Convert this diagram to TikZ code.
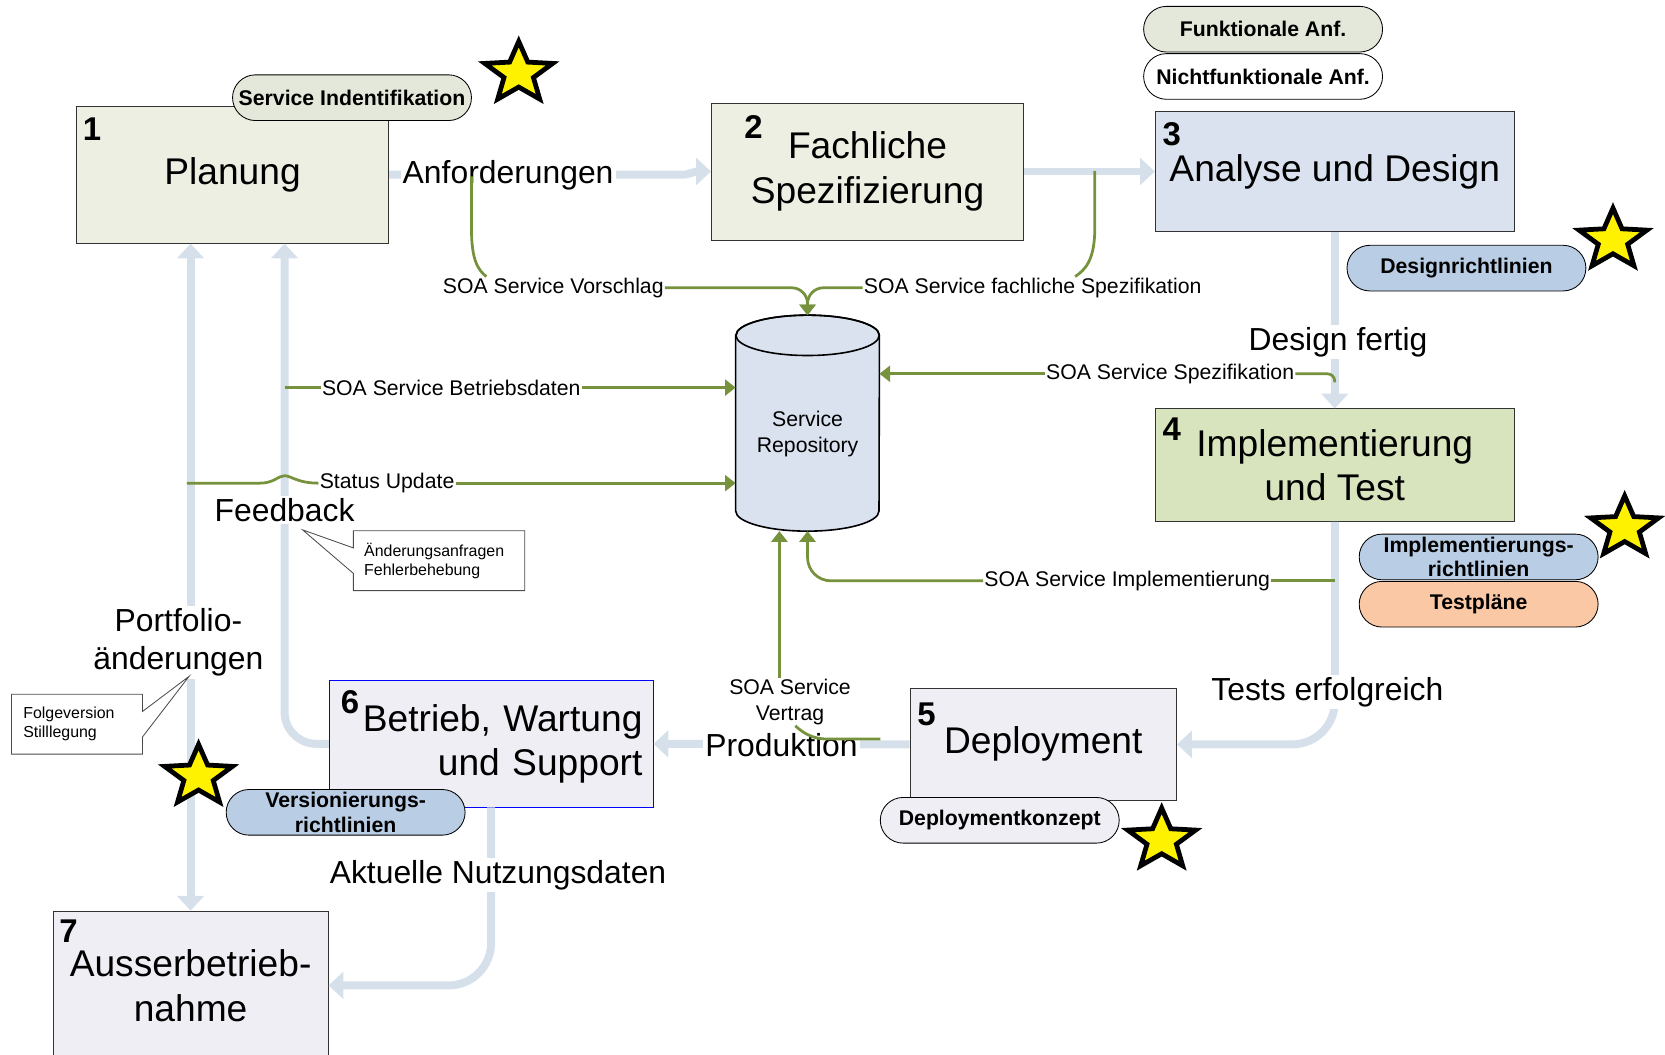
\documentclass[tikz,border=0pt]{standalone}
\usepackage{fontspec}
\setmainfont{Liberation Sans}
\usetikzlibrary{arrows.meta}

\definecolor{stagetan}{HTML}{EDEFE3}
\definecolor{pilltan}{HTML}{E4E8DA}
\definecolor{stageblue}{HTML}{D9E2EE}
\definecolor{stagegreen}{HTML}{D7E4BD}
\definecolor{stagegray}{HTML}{EFEEF4}
\definecolor{pillblue}{HTML}{B9CDE5}
\definecolor{pillpeach}{HTML}{FAC8A4}
\definecolor{flowblue}{HTML}{D6E0EB}
\definecolor{soagreen}{HTML}{76923C}

\tikzset{
	flowtip/.tip={Triangle[length=14pt,width=25pt]},
	soatip/.tip={Triangle[length=10pt,width=15pt]},
	stage/.style={draw=black!80, line width=0.8pt, inner sep=0pt, align=center, font=\fontsize{35}{42}\selectfont},
	num/.style={inner sep=0pt, font=\bfseries\fontsize{31}{31}\selectfont},
	pill/.style={draw=black, line width=0.8pt, rounded corners=21.5pt, minimum width=225pt, minimum height=43pt, inner sep=0pt, align=center, font=\bfseries\fontsize{20}{23}\selectfont},
	flow/.style={draw=flowblue, line width=7.5pt, -flowtip},
	flowlabel/.style={fill=white, inner sep=2pt, align=center, font=\fontsize{30}{36}\selectfont},
	soa/.style={draw=soagreen, line width=2.6pt},
	soalabel/.style={inner sep=1pt, align=center, font=\fontsize{20}{24}\selectfont},
	note/.style={draw=black!70, line width=0.8pt},
	notetext/.style={inner sep=0pt, align=left, font=\fontsize{15}{18}\selectfont},
	goldstar/.pic={
		\draw[line width=4.5pt, fill=yellow, xscale=1.12]
			(90:30pt) \foreach \a in {0,72,...,288} { -- ({126+\a}:13pt) -- ({162+\a}:30pt) } -- cycle;
	}
}

\begin{document}
\begin{tikzpicture}[x=1pt,y=-1pt]
	\useasboundingbox (0,0) rectangle (1568,993);

	% stages
	\node[stage, fill=stagetan, minimum width=294pt, minimum height=129pt] (plan) at (219,164.5) {Planung};
	\node[stage, fill=stagetan, minimum width=294pt, minimum height=129pt] (fach) at (817,161.5) {Fachliche\\Spezifizierung};
	\node[stage, fill=stageblue, minimum width=338pt, minimum height=113pt] (anal) at (1257,161.5) {Analyse und Design};
	\node[stage, fill=stagegreen, minimum width=338pt, minimum height=106pt] (impl) at (1257,438) {Implementierung\\und Test};
	\node[stage, fill=stagegray, minimum width=251pt, minimum height=106pt] (depl) at (982.5,701) {Deployment};
	\node[stage, fill=stagegray, draw=blue, minimum width=305pt, minimum height=119pt, text width=285pt, align=right] (betr) at (462.5,700.5) {Betrieb, Wartung\\und Support};
	\node[stage, fill=stagegray, minimum width=259pt, minimum height=140pt] (auss) at (179.5,928) {Ausserbetrieb-\\nahme};
	% numbers
	\node[num] (n1) at ([shift={(15pt,-22pt)}]plan.north west) {1};
	\node[num] (n2) at ([shift={(40pt,-23pt)}]fach.north west) {2};
	\node[num] (n3) at ([shift={(16pt,-22pt)}]anal.north west) {3};
	\node[num] (n4) at ([shift={(16pt,-20pt)}]impl.north west) {4};
	\node[num] (n5) at ([shift={(16pt,-25pt)}]depl.north west) {5};
	\node[num] (n6) at ([shift={(20pt,-21pt)}]betr.north west) {6};
	\node[num] (n7) at ([shift={(15pt,-19pt)}]auss.north west) {7};

	% flow between stages
	\draw[flow] (plan.east) -- (645,164.5) -- (656,161.5) -- (fach.west);
	\draw[flow] (fach.east) -- (anal.west);
	\draw[flow] (anal.south) -- (impl.north);
	\draw[flow, rounded corners=40pt] (impl.south) |- (depl.east);
	\draw[flow] (depl.west) -- (betr.east);
	\draw[flow, rounded corners=30pt] (betr.west) -| ([xshift=49pt]plan.south);
	\draw[flow, rounded corners=40pt] (betr.south) |- (auss.east);
	\draw[flow, flowtip-flowtip] (auss.north |- plan.south) -- (auss.north);
	% label
	\node[flowlabel] (anf) at (478.5,165) {Anforderungen};
	\node[flowlabel] (dfert) at (1260,322) {Design fertig};
	\node[flowlabel] (terf) at (1250,652) {Tests erfolgreich};
	\node[flowlabel] (prod) at (736,702) {Produktion};
	\node[flowlabel] (fback) at (268,480) {Feedback};
	\node[flowlabel] (portf) at (168,605) {Portfolio-\\änderungen};
	\node[flowlabel] (aktn) at (469,824) {Aktuelle Nutzungsdaten};

	% repository
	\node[minimum width=135pt, minimum height=203pt, inner sep=0pt] (repo) at (760.5,398.5) {};
	\draw[line width=1.5pt, fill=stageblue] ([yshift=-19pt]repo.north west) -- ([yshift=19pt]repo.south west)
		arc[start angle=180, end angle=360, x radius=67.5pt, y radius=19pt] -- ([yshift=-19pt]repo.north east)
		arc[start angle=0, end angle=180, x radius=67.5pt, y radius=19pt] -- cycle;
	\draw[line width=1.5pt] ([yshift=-19pt]repo.north) ellipse [x radius=67.5pt, y radius=19pt];
	\node[soalabel] (repotxt) at (760.5,408.5) {Service\\Repository};

	% soa artefacts
	\coordinate (vpt) at (444,166);
	\coordinate (fpt) at (1031,161);
	\coordinate (bpt) at (268,365);
	\coordinate (spt) at (176,455);
	\coordinate (dpt) at (1257,360);
	\coordinate (ipt) at (1257,547);
	\coordinate (vtpt) at (829,696);
	\node[soalabel] (vorschlag) at (521,271) {SOA Service Vorschlag};
	\node[soalabel] (fspez) at (972.5,271) {SOA Service fachliche Spezifikation};
	\node[soalabel] (bdaten) at (425,365) {SOA Service Betriebsdaten};
	\node[soalabel] (status) at (364.5,455) {Status Update};
	\node[soalabel] (spez) at (1102,352) {SOA Service Spezifikation};
	\node[soalabel] (implsoa) at (1061.5,547) {SOA Service Implementierung};
	\node[soalabel] (vertrag) at (744,661) {SOA Service\\Vertrag};

	\draw[soa] (vpt) -- (444,215) .. controls (444,245) and (450,254) .. ([xshift=-63pt]vorschlag.north);
	\draw[soa] (fpt) -- (1031,215) .. controls (1031,245) and (1022,254) .. ([xshift=40pt]fspez.north);
	\draw[soa, -soatip, rounded corners=15pt] (vorschlag.east) -| (repo.north);
	\draw[soa, -soatip, rounded corners=15pt] (fspez.west) -| (repo.north);
	\draw[soa] (bpt) -- (bdaten.west);
	\draw[soa, -soatip] (bdaten.east) -- (bdaten.east -| repo.west);
	\draw[soa] (spt) -- (245,455) .. controls (258,455) and (262,448) .. (268,448)
		.. controls (274,448) and (280,455) .. (status.west);
	\draw[soa, -soatip] (status.east) -- (status.east -| repo.west);
	\draw[soa, rounded corners=7pt] (dpt) |- (spez.east);
	\draw[soa, -soatip] (spez.west) -- (spez.west -| repo.east);
	\draw[soa] (ipt) -- (implsoa.east);
	\draw[soa, -soatip, rounded corners=22pt] (implsoa.west) -| (repo.south);
	\draw[soa] (vtpt) -- (779,696) .. controls (765,696) and (756,690) .. ([xshift=5pt]vertrag.south);
	\draw[soa, -soatip] ([xshift=-10pt]vertrag.north) -- ([xshift=-10pt]vertrag.north |- repo.south);

	% guidelines
	\node[pill, fill=pilltan] (ident) at (331.5,92) {Service Indentifikation};
	\node[pill, fill=pilltan] (funk) at (1189.5,27.5) {Funktionale Anf.};
	\node[pill, fill=white] (nfunk) at (1189.5,72) {Nichtfunktionale Anf.};
	\node[pill, fill=pillblue] (drl) at (1381,252.5) {Designrichtlinien};
	\node[pill, fill=pillblue] (irl) at (1392.5,524.5) {Implementierungs-\\richtlinien};
	\node[pill, fill=pillpeach] (tpl) at (1392.5,569) {Testpläne};
	\node[pill, fill=stagegray] (dkz) at (941.5,772.5) {Deploymentkonzept};
	\node[pill, fill=pillblue, font=\bfseries\fontsize{20}{24}\selectfont] (vrl) at (325.5,765) {Versionierungs-\\richtlinien};
	% stars
	\pic at (488.5,69) {goldstar};
	\pic at (1519,226) {goldstar};
	\pic at (1530,497) {goldstar};
	\pic at (187,731) {goldstar};
	\pic at (1094,791) {goldstar};

	% notes
	\node[notetext, text width=141pt, minimum width=161pt, minimum height=56pt] (aend) at (413.5,528) {Änderungsanfragen\\Fehlerbehebung};
	\coordinate (aendtip) at (285,499);
	\draw[note] (aend.north west) -- (aend.north east) -- (aend.south east) -- (aend.south west)
		-- ([yshift=-12pt]aend.west) -- (aendtip) -- ([yshift=12pt]aend.west) -- cycle;
	\node[notetext, text width=101pt, minimum width=123pt, minimum height=56pt] (folge) at (72.5,682) {Folgeversion\\Stilllegung};
	\coordinate (folgetip) at (178,637);
	\draw[note] (folge.north west) -- (folge.north east) -- ([yshift=12pt]folge.east) -- (folgetip)
		-- ([yshift=-12pt]folge.east) -- (folge.south east) -- (folge.south west) -- cycle;
\end{tikzpicture}
\end{document}
